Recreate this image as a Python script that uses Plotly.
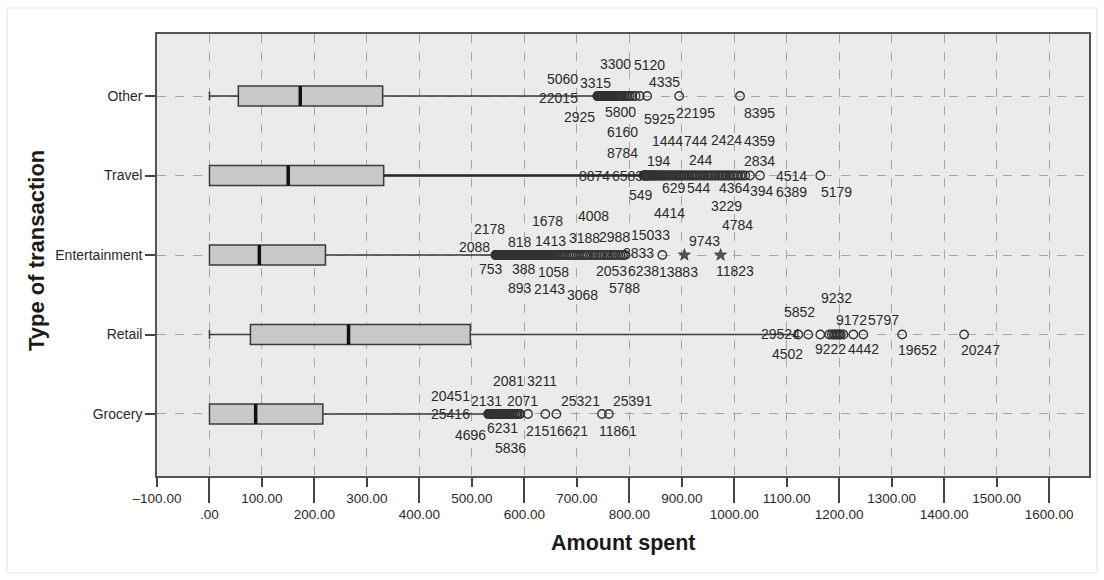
import plotly.graph_objects as go

# ---------------- data ----------------
categories = ["Grocery", "Retail", "Entertainment", "Travel", "Other"]
q1 = [0, 78, 0, 0, 55]
median = [88, 265, 95, 150, 173]
q3 = [216, 497, 221, 332, 330]
lower_fence = [0, 0, 0, 0, 0]
upper_fence = [528, 1116, 543, 822, 736]

grocery_outliers = [531, 532, 533, 534, 535, 536, 537, 539, 540, 542, 543, 545, 546, 548, 549,
                    551, 552, 554, 556, 558, 560, 562, 564, 566, 568, 570, 572, 575, 577, 580,
                    582, 585, 587, 590, 592, 607, 640, 661, 748, 761]
retail_outliers = [1122, 1141, 1164, 1181, 1186, 1190, 1192, 1195, 1198, 1201, 1203, 1208, 1227,
                   1246, 1320, 1438]
entertainment_outliers = [545, 545.5, 546, 546.5, 547, 547.5, 548, 548.5, 549, 549.5, 550, 551,
                          552, 553, 554, 555, 556, 557, 558, 559, 560, 561, 562, 563, 564, 565,
                          566, 567, 568, 569, 570, 571, 572, 573, 574, 575, 576, 577, 578, 579,
                          580, 581, 582, 583, 584, 585, 586, 587, 588, 589, 590, 591, 592, 593,
                          594, 595, 596, 597, 598, 599, 600, 601, 602, 603, 604, 605, 606, 607,
                          608, 609, 610, 611, 612, 613, 614, 615, 616, 617, 618, 619, 620, 621,
                          622, 623, 624, 625, 626, 627, 628, 629, 630, 631, 632, 633, 634, 635,
                          636, 637, 638, 639, 640, 642, 644, 646, 648, 650, 652, 654, 656, 659,
                          662, 665, 668, 671, 674, 677, 680, 684, 688, 692, 696, 700, 704, 708,
                          712, 716, 720, 725, 729, 734, 738, 743, 747, 752, 756, 761, 765, 770,
                          774, 779, 783, 788, 792, 863]
entertainment_extremes = [905, 974]
travel_outliers = [827, 828, 829, 830, 831, 832, 833, 834, 835, 836, 838, 839, 841, 842, 844,
                   845, 847, 848, 850, 852, 854, 856, 858, 860, 862, 864, 866, 868, 870, 873,
                   875, 878, 880, 883, 885, 888, 890, 893, 895, 898, 900, 903, 906, 909, 912,
                   915, 918, 921, 924, 927, 930, 934, 937, 941, 944, 948, 951, 955, 958, 962,
                   965, 969, 972, 976, 979, 983, 986, 990, 993, 997, 1000, 1004, 1008, 1012,
                   1016, 1021, 1030, 1049, 1164]
other_outliers = [739, 740, 741, 742, 743, 744, 745, 746, 747, 749, 750, 752, 753, 755, 757,
                  758, 760, 762, 764, 766, 768, 770, 772, 775, 777, 779, 781, 783, 786, 788,
                  791, 794, 797, 801, 806, 812, 820, 834, 895, 1011]

outliers = [grocery_outliers, retail_outliers, entertainment_outliers, travel_outliers,
            other_outliers]

# case-number labels (text), their category, and their placement
label_ids = [
    # Other
    "3300", "5120", "5060", "3315", "4335", "22015", "2925", "5800", "5925", "22195", "8395", "6160",
    # Travel
    "8784", "1444", "744", "2424", "4359", "194", "244", "2834", "8874", "6583", "4514",
    "549", "629", "544", "4364", "394", "6389", "5179", "3229",
    # Entertainment
    "4414", "4784", "2178", "1678", "4008", "2088", "818", "1413", "3188", "2988", "15033",
    "9743", "8833", "753", "388", "1058", "893", "2143", "3068", "2053", "6238", "13883",
    "11823", "5788",
    # Retail
    "9232", "5852", "9172", "5797", "29524", "4502", "9222", "4442", "19652", "20247",
    # Grocery
    "2081", "3211", "20451", "2131", "2071", "25321", "25391", "25416", "4696", "6231",
    "2151", "6621", "11861", "5836",
]
label_cat = [4] * 12 + [3] * 19 + [2] * 24 + [1] * 10 + [0] * 14
label_x = [
    773, 838, 672, 735, 867, 665, 705, 783, 857, 926, 1048, 787,
    787, 872, 928, 985, 1048, 857, 937, 1048, 733, 796, 1110,
    823, 886, 933, 1000, 1053, 1110, 1194, 985,
    876, 1006, 533, 644, 731, 505, 592, 650, 714, 771, 840,
    943, 817, 537, 600, 655, 592, 648, 710, 766, 827, 893,
    1002, 790,
    1194, 1124, 1223, 1284, 1088, 1101, 1183, 1246, 1349, 1469,
    570, 634, 459, 528, 596, 707, 806, 459, 497, 558, 632, 691, 779, 573,
]
label_dy = [
    0.40, 0.39, 0.21, 0.16, 0.18, -0.03, -0.26, -0.20, -0.29, -0.21, -0.21, -0.45,
    0.28, 0.43, 0.43, 0.45, 0.43, 0.18, 0.20, 0.18, 0.0, 0.0, 0.0,
    -0.25, -0.16, -0.16, -0.16, -0.19, -0.21, -0.21, -0.38,
    0.53, 0.38, 0.33, 0.43, 0.49, 0.10, 0.16, 0.18, 0.21, 0.23, 0.25,
    0.18, 0.03, -0.18, -0.18, -0.21, -0.41, -0.43, -0.50, -0.20, -0.20, -0.21,
    -0.20, -0.41,
    0.46, 0.28, 0.18, 0.18, 0.01, -0.25, -0.18, -0.18, -0.19, -0.19,
    0.41, 0.41, 0.23, 0.16, 0.16, 0.16, 0.16, 0.0, -0.26, -0.18, -0.21, -0.21, -0.21, -0.43,
]

x_ticks = list(range(-100, 1700, 100))


def spss_label(v):
    if v == 0:
        return ".00"
    s = f"{abs(v):.2f}"
    return ("\u2013" + s) if v < 0 else s


# ---------------- figure ----------------
FONT = "Liberation Sans, Arial, sans-serif"
BOX_W = 0.25
fig = go.Figure()

for i, cat in enumerate(categories):
    fig.add_trace(go.Box(
        y=[i], q1=[q1[i]], median=[median[i]], q3=[q3[i]],
        lowerfence=[lower_fence[i]], upperfence=[upper_fence[i]],
        orientation="h", width=BOX_W, whiskerwidth=0.45,
        fillcolor="#c8c8c8", line=dict(color="#3a3a3a", width=1.5),
        showlegend=False, hoverinfo="skip", name=cat,
    ))

# thicker whisker for Travel
ti = categories.index("Travel")
fig.add_trace(go.Scatter(x=[q3[ti], upper_fence[ti]], y=[ti, ti], mode="lines",
                         line=dict(color="#2a2a2a", width=2.6), showlegend=False,
                         hoverinfo="skip"))

# median lines
mx, my = [], []
for i in range(len(categories)):
    mx += [median[i], median[i], None]
    my += [i - BOX_W / 2, i + BOX_W / 2, None]
fig.add_trace(go.Scatter(x=mx, y=my, mode="lines", line=dict(color="#111111", width=3.5),
                         showlegend=False, hoverinfo="skip"))

# outliers
for i, vals in enumerate(outliers):
    fig.add_trace(go.Scatter(x=vals, y=[i] * len(vals), mode="markers",
                             marker=dict(symbol="circle-open", size=8.5, color="#333333",
                                         line=dict(width=1.3, color="#333333")),
                             showlegend=False, hoverinfo="skip"))
ei = categories.index("Entertainment")
fig.add_trace(go.Scatter(x=entertainment_extremes, y=[ei] * len(entertainment_extremes),
                         mode="markers",
                         marker=dict(symbol="star", size=9, color="#555555",
                                     line=dict(width=0.8, color="#333333")),
                         showlegend=False, hoverinfo="skip"))

# case labels
for t, c, lx, dy in zip(label_ids, label_cat, label_x, label_dy):
    fig.add_annotation(x=lx, y=c + dy, text=t, showarrow=False, xanchor="center",
                       yanchor="middle", font=dict(family=FONT, size=14, color="#2a2a2a"))

# x title and y title
fig.add_annotation(x=0.5, y=-0.152, xref="paper", yref="paper", text="<b>Amount spent</b>",
                   showarrow=False, font=dict(family=FONT, size=21.5, color="#1a1a1a"),
                   xanchor="center", yanchor="middle")
fig.add_annotation(x=-0.13, y=0.511, xref="paper", yref="paper",
                   text="<b>Type of transaction</b>", textangle=-90, showarrow=False,
                   font=dict(family=FONT, size=22, color="#1a1a1a"),
                   xanchor="center", yanchor="middle")

xrange = [-100, 1676]
odd_ticks = [v for v in x_ticks if (v // 100) % 2 != 0]
even_ticks = [v for v in x_ticks if (v // 100) % 2 == 0]

fig.update_layout(
    width=1104, height=580,
    margin=dict(l=157, r=15, t=34, b=104),
    paper_bgcolor="white", plot_bgcolor="#ebebeb",
    font=dict(family=FONT, size=13, color="#2a2a2a"),
    xaxis=dict(range=xrange, tickmode="array", tickvals=x_ticks,
               ticktext=[spss_label(v) if v in odd_ticks else "" for v in x_ticks],
               ticks="outside", ticklen=9, tickwidth=1.5, tickcolor="#444",
               showgrid=True, gridcolor="#a5a5a5", griddash="dash", gridwidth=1,
               showline=True, linecolor="#555", linewidth=1.5, mirror=True,
               zeroline=False, tickfont=dict(size=13.5)),
    xaxis2=dict(range=xrange, overlaying="x", side="bottom", anchor="y",
                tickmode="array", tickvals=even_ticks,
                ticktext=[spss_label(v) for v in even_ticks],
                ticks="outside", ticklen=26, tickwidth=1.5, tickcolor="#444",
                showgrid=False, showline=False, zeroline=False, tickfont=dict(size=13.5)),
    yaxis=dict(range=[-0.78, 4.78], tickmode="array", tickvals=list(range(len(categories))),
               ticktext=categories, ticks="outside", ticklen=10, tickwidth=1.5,
               tickcolor="#444", showgrid=True, gridcolor="#a5a5a5", griddash="dash",
               showline=True, linecolor="#555", linewidth=1.5, mirror=True, zeroline=False,
               tickfont=dict(size=14)),
    shapes=[dict(type="rect", xref="paper", yref="paper",
                 x0=(7 - 157) / 932, x1=(1097 - 157) / 932,
                 y0=(476 - 573) / 442, y1=(476 - 8) / 442,
                 line=dict(color="#e2e2e2", width=1), layer="below")],
)

# dummy trace so xaxis2 is drawn
fig.add_trace(go.Scatter(x=[None], y=[None], xaxis="x2", showlegend=False, hoverinfo="skip"))

fig.write_html("out.html", config={"displayModeBar": False},
               post_script="document.body.style.margin='0';")
